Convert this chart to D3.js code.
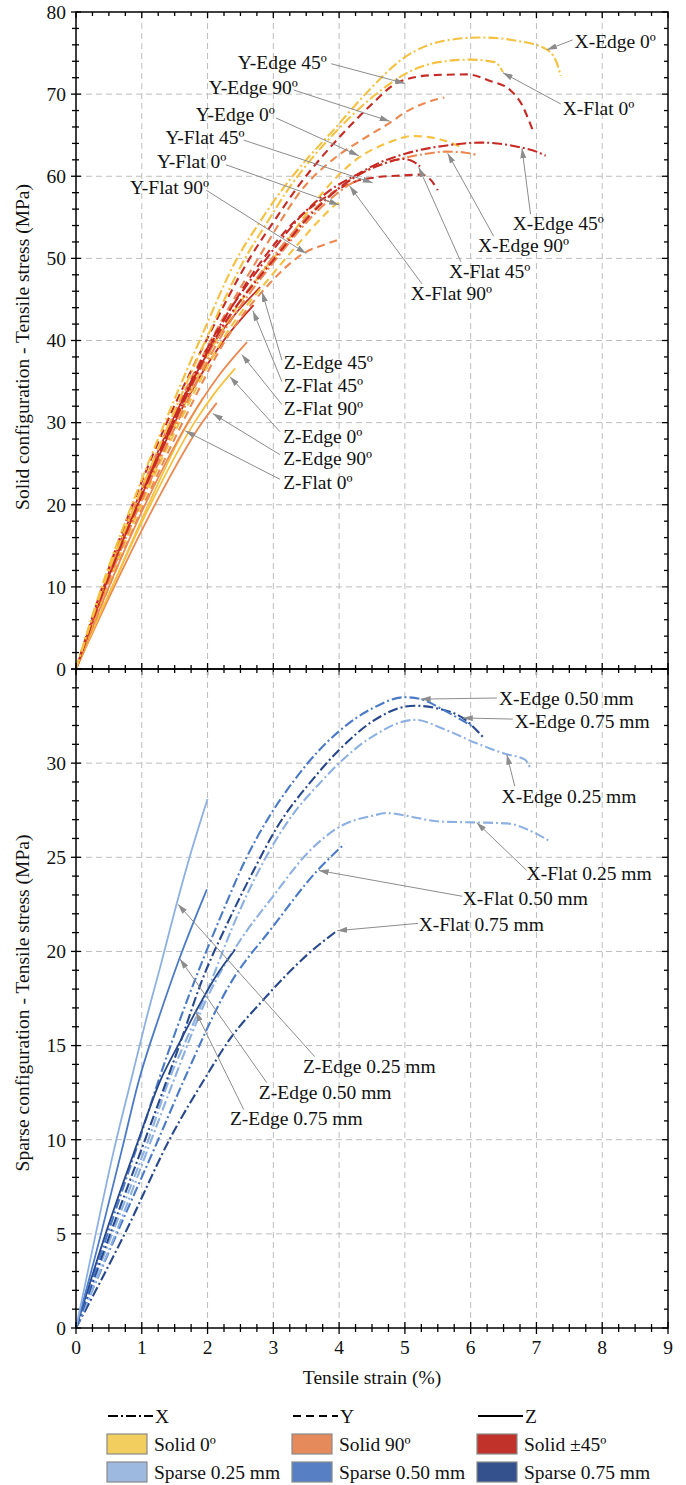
<!DOCTYPE html>
<html><head><meta charset="utf-8">
<script src="https://cdn.jsdelivr.net/npm/d3@7"></script>
<style>body{margin:0;background:#fff}</style>
</head><body><svg id="c" width="686" height="1485" font-family="'Liberation Serif', 'DejaVu Serif', serif"></svg>
<script>
// ---------- tick labels ----------
const xTicks = [0,1,2,3,4,5,6,7,8,9];
const topYTicks = [0,10,20,30,40,50,60,70,80];
const botYTicks = [0,5,10,15,20,25,30];

// ---------- top (solid) series: [strain %, stress MPa] ----------
const xEdge0  = [[0,0],[0.39,10],[0.85,20],[1.35,30],[1.88,40],[2.45,50],[2.8,54.5],[3.1,58],[3.5,62],[3.9,65.5],[4.4,70],[5.0,74.5],[5.6,76.5],[6.15,76.9],[6.7,76.5],[7.14,75.5],[7.3,74],[7.37,72.2]];
const xFlat0  = [[0,0],[0.41,10],[0.9,20],[1.42,30],[1.97,40],[2.57,50],[2.9,54.3],[3.2,58.1],[3.6,62.3],[3.96,65.5],[4.5,69.6],[5.2,73.2],[5.6,74],[5.98,74.2],[6.37,73.9],[6.49,72.7]];
const xEdge45 = [[0,0],[0.43,10],[0.92,20],[1.46,30],[2.06,40],[2.9,50],[3.5,55.8],[3.9,58.5],[4.27,60.2],[4.6,61.6],[5.03,62.8],[5.68,63.8],[6.15,64.1],[6.5,63.9],[6.77,63.5],[7.0,63.0],[7.14,62.5]];
const xFlat45 = [[0,0],[0.44,10],[0.94,20],[1.49,30],[2.1,40],[3.02,50],[3.6,55.6],[4.2,59.7],[4.6,61.3],[4.97,62.1],[5.1,61.9],[5.23,61.2]];
const xEdge90 = [[0,0],[0.45,10],[0.95,20],[1.5,30],[2.12,40],[2.98,50],[3.6,55.8],[4.3,60.2],[4.87,62.0],[5.3,62.7],[5.63,63.0],[5.9,62.9],[6.09,62.6]];
const xFlat90 = [[0,0],[0.46,10],[0.97,20],[1.54,30],[2.17,40],[3.05,50],[3.6,55.2],[4.0,58.1],[4.16,59.0],[4.28,59.5]];
const yEdge0  = [[0,0],[0.45,10],[0.96,20],[1.52,30],[2.13,40],[2.8,48],[3.2,52],[3.6,56.5],[3.95,59.8],[4.29,62.2],[4.72,64],[5.13,64.9],[5.48,64.6],[5.84,63.6]];
const yFlat0  = [[0,0],[0.47,10],[0.99,20],[1.57,30],[2.22,40],[2.98,48],[3.35,51.5],[3.73,54.9],[3.94,56.5],[4.05,57.0]];
const yEdge45 = [[0,0],[0.4,10],[0.86,20],[1.38,30],[1.98,40],[2.64,50],[3.05,55],[3.38,58.8],[3.7,62],[4.09,65.5],[4.5,68.8],[4.89,71.4],[5.4,72.3],[5.95,72.4],[6.3,71.6],[6.6,70.5],[6.78,68.7],[6.9,66.5],[6.95,65.5]];
const yFlat45 = [[0,0],[0.44,10],[0.93,20],[1.48,30],[2.08,40],[2.85,50],[3.3,54.3],[3.8,57.5],[4.26,59.4],[4.6,59.9],[4.97,60.1],[5.25,60.2],[5.4,59.5],[5.5,58.3]];
const yEdge90 = [[0,0],[0.42,10],[0.9,20],[1.43,30],[2.05,40],[2.77,50],[3.5,59],[3.9,62],[4.44,64.9],[4.77,66.5],[5.03,67.9],[5.3,68.9],[5.6,69.6]];
const yFlat90 = [[0,0],[0.5,10],[1.03,20],[1.62,30],[2.27,40],[2.95,47],[3.35,50],[3.5,50.8],[3.75,51.6],[4.0,52.3]];
const zEdge0  = [[0,0],[0.55,10],[1.13,20],[1.8,30],[2.1,33.5],[2.42,36.6]];
const zFlat0  = [[0,0],[0.55,10],[1.1,20],[1.63,28.9],[1.93,33.0]];
const zEdge45 = [[0,0],[0.42,10],[0.9,20],[1.45,30],[2.12,40],[2.8,46.5]];
const zFlat45 = [[0,0],[0.44,10],[0.94,20],[1.5,30],[2.2,39.5],[2.7,44.3]];
const zEdge90 = [[0,0],[0.58,10],[1.2,20],[1.9,29.8],[2.14,32.4]];
const zFlat90 = [[0,0],[0.5,10],[1.05,20],[1.7,30],[2.15,35.5],[2.6,39.8]];

// ---------- bottom (sparse) series ----------
const sxEdge025 = [[0,0],[0.55,5],[1.1,10],[1.45,13.5],[1.7,15.5],[2.03,18.2],[2.38,21.3],[2.84,24.7],[3.24,27.0],[3.75,29.1],[4.0,30.0],[4.5,31.4],[5.15,32.3],[5.6,31.8],[6.06,31.1],[6.52,30.5],[6.82,30.2],[6.91,29.7]];
const sxEdge050 = [[0,0],[0.5,5.2],[1.0,10.4],[1.26,13.2],[1.52,15.8],[1.9,19.3],[2.23,22.1],[2.58,24.9],[2.91,27.0],[3.32,29.1],[3.7,30.7],[4.0,31.7],[4.5,32.9],[5.0,33.5],[5.24,33.4],[5.6,32.8],[6.05,31.9]];
const sxEdge075 = [[0,0],[0.52,5],[1.05,10],[1.57,15.0],[1.92,18.5],[2.33,21.7],[2.73,24.5],[3.04,26.5],[3.59,29.1],[4.0,30.7],[4.5,32.2],[5.0,33.0],[5.15,33.05],[5.5,32.9],[5.88,32.4],[6.21,31.3]];
const sxFlat025 = [[0,0],[0.6,5],[1.2,10.5],[1.47,13.0],[2.03,17.8],[2.48,20.5],[2.99,22.9],[3.54,25.3],[4.05,26.7],[4.5,27.2],[4.73,27.35],[5.03,27.2],[5.52,26.9],[6.09,26.85],[6.55,26.8],[6.97,26.3],[7.18,25.9]];
const sxFlat050 = [[0,0],[0.62,5],[1.25,10],[1.67,13.4],[2.33,18.2],[2.99,21.3],[3.67,24.3],[4.08,25.7]];
const sxFlat075 = [[0,0],[0.74,5],[1.45,10.2],[1.95,13.2],[2.33,15.3],[2.84,17.4],[3.54,19.9],[3.97,21.1]];
const szEdge025 = [[0,0],[0.3,5],[0.58,9.5],[0.84,13.2],[1.06,16.3],[1.29,19.3],[1.52,22.4],[1.76,25.4],[2.0,28.1]];
const szEdge050 = [[0,0],[0.38,5],[0.7,9.5],[0.96,13.2],[1.27,16.6],[1.57,19.6],[1.99,23.3]];
const szEdge075 = [[0,0],[0.45,5],[0.9,9.5],[1.29,13.2],[1.55,15.0],[1.82,16.8],[2.13,18.7],[2.42,20.1]];

// series lists: [points, build direction, material key]
const topSeries = [
  [zFlat0,"Z","s0"],[zEdge90,"Z","s90"],[zEdge0,"Z","s0"],[zFlat90,"Z","s90"],[zFlat45,"Z","s45"],[zEdge45,"Z","s45"],
  [yFlat90,"Y","s90"],[yFlat0,"Y","s0"],[yEdge0,"Y","s0"],[yFlat45,"Y","s45"],[yEdge90,"Y","s90"],[yEdge45,"Y","s45"],
  [xFlat90,"X","s90"],[xEdge90,"X","s90"],[xFlat45,"X","s45"],[xEdge45,"X","s45"],[xFlat0,"X","s0"],[xEdge0,"X","s0"]
];
const botSeries = [
  [sxFlat075,"X","p75"],[sxFlat050,"X","p50"],[sxFlat025,"X","p25"],
  [sxEdge025,"X","p25"],[sxEdge075,"X","p75"],[sxEdge050,"X","p50"],
  [szEdge075,"Z","p75"],[szEdge050,"Z","p50"],[szEdge025,"Z","p25"]
];

// annotations: label, text anchor [strain,stress], arrow start, arrow tip
const topNotes = [
  ["X-Edge 0º",[7.58,76.4],[7.55,76.6],[7.16,75.4]],
  ["X-Flat 0º",[7.40,68.3],[7.37,68.8],[6.49,72.6]],
  ["Y-Edge 45º",[2.46,73.9],[3.88,73.7],[5.0,71.3]],
  ["Y-Edge 90º",[2.02,70.8],[3.31,70.5],[4.77,66.7]],
  ["Y-Edge 0º",[1.82,67.5],[3.04,67.1],[4.30,62.5]],
  ["Y-Flat 45º",[1.36,64.8],[2.55,64.4],[4.51,59.2]],
  ["Y-Flat 0º",[1.23,61.8],[2.28,61.4],[4.0,56.5]],
  ["Y-Flat 90º",[0.82,58.7],[1.98,58.3],[3.5,50.6]],
  ["X-Edge 45º",[6.64,54.3],[6.91,55.4],[6.78,63.4]],
  ["X-Edge 90º",[6.11,51.6],[6.35,52.7],[5.65,62.8]],
  ["X-Flat 45º",[5.67,48.5],[5.85,49.6],[5.21,61.1]],
  ["X-Flat 90º",[5.09,45.8],[5.26,46.9],[4.16,58.8]],
  ["Z-Edge 45º",[3.16,37.3],[3.13,37.6],[2.83,45.9]],
  ["Z-Flat 45º",[3.16,34.5],[3.13,35.0],[2.69,43.6]],
  ["Z-Flat 90º",[3.16,31.7],[3.13,32.2],[2.52,38.3]],
  ["Z-Edge 0º",[3.15,28.4],[3.10,28.9],[2.34,35.6]],
  ["Z-Edge 90º",[3.15,25.7],[3.10,26.1],[2.08,31.1]],
  ["Z-Flat 0º",[3.15,22.8],[3.10,23.1],[1.66,29.0]]
];
const botNotes = [
  ["X-Edge 0.50 mm",[6.43,33.46],[6.40,33.46],[5.24,33.4]],
  ["X-Edge 0.75 mm",[6.67,32.23],[6.64,32.34],[5.88,32.4]],
  ["X-Edge 0.25 mm",[6.47,28.24],[6.67,28.78],[6.55,30.45]],
  ["X-Flat 0.25 mm",[6.85,24.15],[6.85,24.31],[6.09,26.85]],
  ["X-Flat 0.50 mm",[5.88,22.82],[5.87,22.93],[3.69,24.3]],
  ["X-Flat 0.75 mm",[5.21,21.44],[5.2,21.49],[3.97,21.1]],
  ["Z-Edge 0.25 mm",[3.45,13.88],[3.63,14.41],[1.55,22.5]],
  ["Z-Edge 0.50 mm",[2.78,12.5],[2.9,13.03],[1.58,19.6]],
  ["Z-Edge 0.75 mm",[2.34,11.12],[2.55,11.6],[1.82,16.8]]
];

// legend entries
const dirLegend = ["X","Y","Z"];
const matLegend = [["s0","Solid 0º"],["s90","Solid 90º"],["s45","Solid ±45º"],["p25","Sparse 0.25 mm"],["p50","Sparse 0.50 mm"],["p75","Sparse 0.75 mm"]];

// ---------- styles ----------
const lineColor = {s0:"#F5C140", s90:"#EC8850", s45:"#C72A24", p25:"#8DB0E2", p50:"#4A7AC8", p75:"#27488C"};
const fillColor = {s0:"#F2CE5E", s90:"#E58B5B", s45:"#C0322A", p25:"#9EB9DF", p50:"#5680C3", p75:"#34508D"};
const dash = {X:"10,3,2,3", Y:"8,5", Z:null};
const FS = 19.5;
const FONT = "'Liberation Serif', 'DejaVu Serif', serif";

const svg = d3.select("#c");
const x = d3.scaleLinear().domain([0,9]).range([76,668]);
const yT = d3.scaleLinear().domain([0,80]).range([669,12]);
const yB = d3.scaleLinear().domain([0,35]).range([1328,669]);

const defs = svg.append("defs");
defs.append("marker").attr("id","ah").attr("viewBox","0 0 10 6").attr("refX",10).attr("refY",3)
  .attr("markerWidth",10).attr("markerHeight",6).attr("markerUnits","userSpaceOnUse").attr("orient","auto")
  .append("path").attr("d","M0,0L10,3L0,6Z").attr("fill","#8c8c8c");

function txt(sel){ return sel.attr("font-family",FONT).attr("font-size",FS).attr("fill","#111"); }

function panel(y, yTicksMajor, yMinorStep, series, notes, gridY){
  const g = svg.append("g");
  const [y0,y1] = y.domain();
  g.selectAll(null).data(d3.range(1,9)).join("line")
    .attr("x1",d=>x(d)).attr("x2",d=>x(d)).attr("y1",y(y0)).attr("y2",y(y1))
    .attr("stroke","#bdbdbd").attr("stroke-width",1).attr("stroke-dasharray","6,4");
  g.selectAll(null).data(gridY).join("line")
    .attr("x1",x(0)).attr("x2",x(9)).attr("y1",d=>y(d)).attr("y2",d=>y(d))
    .attr("stroke","#bdbdbd").attr("stroke-width",1).attr("stroke-dasharray","6,4");
  const line = d3.line().x(d=>x(d[0])).y(d=>y(d[1])).curve(d3.curveMonotoneX);
  g.selectAll(null).data(series).join("path")
    .attr("d",d=>line(d[0])).attr("fill","none")
    .attr("stroke",d=>lineColor[d[2]]).attr("stroke-width",d=>d[1]==="Z"?1.8:2.1)
    .attr("stroke-dasharray",d=>dash[d[1]]);
  g.selectAll(null).data(notes).join("line")
    .attr("x1",d=>x(d[2][0])).attr("y1",d=>y(d[2][1])).attr("x2",d=>x(d[3][0])).attr("y2",d=>y(d[3][1]))
    .attr("stroke","#8c8c8c").attr("stroke-width",1).attr("marker-end","url(#ah)");
  txt(g.selectAll(null).data(notes).join("text"))
    .attr("x",d=>x(d[1][0])).attr("y",d=>y(d[1][1])).attr("dy","0.35em").text(d=>d[0]);
  g.append("rect").attr("x",x(0)).attr("y",y(y1)).attr("width",x(9)-x(0)).attr("height",y(y0)-y(y1))
    .attr("fill","none").attr("stroke","#000").attr("stroke-width",1.5);
  const step = yTicksMajor[1]-yTicksMajor[0];
  const majorY = d3.range(y0, y1+0.001, step);
  const minorY = d3.range(y0, y1+0.001, yMinorStep).filter(v=>Math.abs(v/step-Math.round(v/step))>1e-6);
  const tk = g.append("g").attr("stroke","#000").attr("stroke-width",1.3);
  majorY.forEach(v=>{
    tk.append("line").attr("x1",x(0)-5).attr("x2",x(0)+5).attr("y1",y(v)).attr("y2",y(v));
    tk.append("line").attr("x1",x(9)-6).attr("x2",x(9)).attr("y1",y(v)).attr("y2",y(v));
  });
  minorY.forEach(v=>{
    tk.append("line").attr("x1",x(0)-4).attr("x2",x(0)+3).attr("y1",y(v)).attr("y2",y(v));
    tk.append("line").attr("x1",x(9)-4).attr("x2",x(9)).attr("y1",y(v)).attr("y2",y(v));
  });
  txt(g.selectAll(null).data(yTicksMajor).join("text"))
    .attr("x",66).attr("y",d=>y(d)).attr("dy","0.35em").attr("text-anchor","end").text(d=>d);
  return tk;
}

const tkTop = panel(yT, topYTicks, 2, topSeries, topNotes, [10,20,30,40,50,60,70]);
const tkBot = panel(yB, botYTicks, 1, botSeries, botNotes, [5,10,15,20,25,30]);

const xMinor = d3.range(0, 9.001, 0.25).filter(v=>Math.abs(v-Math.round(v))>1e-6);
function xTickRow(g, yPos, up, down, upM, downM){
  xTicks.forEach(v=>g.append("line").attr("x1",x(v)).attr("x2",x(v)).attr("y1",yPos-up).attr("y2",yPos+down));
  xMinor.forEach(v=>g.append("line").attr("x1",x(v)).attr("x2",x(v)).attr("y1",yPos-upM).attr("y2",yPos+downM));
}
xTickRow(tkTop, yT(80), 0, 6, 0, 4);
xTickRow(tkTop, yT(0), 6, 6, 4, 4);
xTickRow(tkBot, yB(0), 6, 6, 4, 4);

txt(svg.selectAll(null).data(xTicks).join("text"))
  .attr("x",d=>x(d)).attr("y",1347).attr("dy","0.35em").attr("text-anchor","middle").text(d=>d);

txt(svg.append("text")).attr("transform","translate(22,347) rotate(-90)").attr("dy","0.35em")
  .attr("text-anchor","middle").text("Solid configuration - Tensile stress (MPa)");
txt(svg.append("text")).attr("transform","translate(22,1003) rotate(-90)").attr("dy","0.35em")
  .attr("text-anchor","middle").text("Sparse configuration - Tensile stress (MPa)");
txt(svg.append("text")).attr("x",372).attr("y",1377).attr("dy","0.35em")
  .attr("text-anchor","middle").text("Tensile strain (%)");

const cols = [107, 292, 477];
const lg = svg.append("g");
dirLegend.forEach((d,i)=>{
  lg.append("line").attr("x1",cols[i]+1).attr("x2",cols[i]+46).attr("y1",1416).attr("y2",1416)
    .attr("stroke","#000").attr("stroke-width",1.8).attr("stroke-dasharray",dash[d]);
  txt(lg.append("text")).attr("x",cols[i]+48).attr("y",1416).attr("dy","0.35em").text(d);
});
matLegend.forEach((m,i)=>{
  const cx = cols[i%3], cy = i<3 ? 1444 : 1472;
  lg.append("rect").attr("x",cx).attr("y",cy-10).attr("width",40).attr("height",20)
    .attr("fill",fillColor[m[0]]).attr("stroke","#8a8a8a").attr("stroke-width",1.2);
  txt(lg.append("text")).attr("x",cx+47).attr("y",cy).attr("dy","0.35em").text(m[1]);
});
</script></body></html>
